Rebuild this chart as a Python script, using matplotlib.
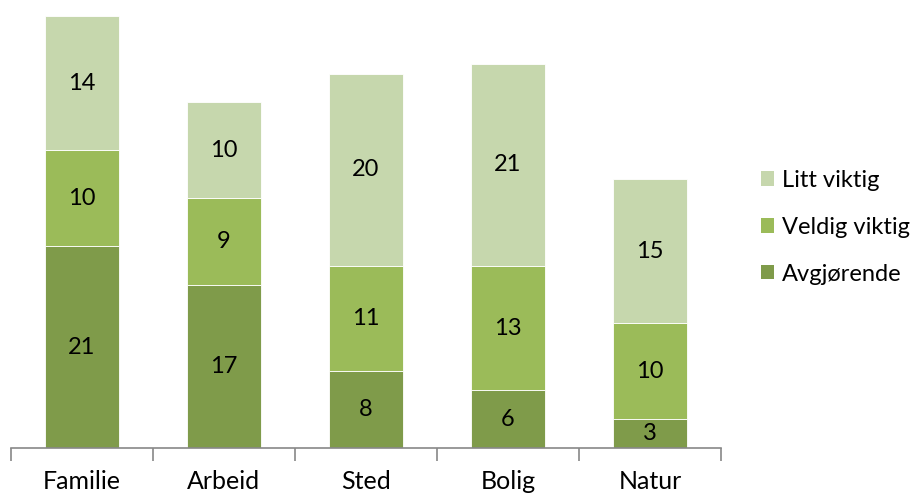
import matplotlib
matplotlib.use("Agg")
import matplotlib.pyplot as plt
from matplotlib.patches import Patch
import numpy as np

categories = ["Familie", "Arbeid", "Sted", "Bolig", "Natur"]
avgjorende = [21, 17, 8, 6, 3]
veldig_viktig = [10, 9, 11, 13, 10]
litt_viktig = [14, 10, 20, 21, 15]
series_names = ["Avgjørende", "Veldig viktig", "Litt viktig"]
colors = ["#7f9b4a", "#9bbb59", "#c6d7ad"]

plt.rcParams['font.family'] = ['Lato', 'DejaVu Sans']

fig = plt.figure(figsize=(9.16, 4.94), dpi=100)
ax = fig.add_axes([0.012, 0.0931, 0.775, 0.8745])

x = np.arange(len(categories))
bottom = np.zeros(len(categories))
for vals, name, c in zip([avgjorende, veldig_viktig, litt_viktig], series_names, colors):
    ax.bar(x, vals, width=0.52, bottom=bottom, color=c, label=name,
           edgecolor="white", linewidth=0.6)
    for xi, b, v in zip(x, bottom, vals):
        ax.text(xi, b + v / 2, str(v), ha="center", va="center", fontsize=17, color="black")
    bottom += np.array(vals)

ax.set_xlim(-0.5, 4.5)
ax.set_ylim(0, 45)
ax.set_yticks([])
for s in ["top", "right", "left"]:
    ax.spines[s].set_visible(False)
ax.spines["bottom"].set_color("#888888")
ax.spines["bottom"].set_linewidth(1.2)
ax.set_xticks(np.arange(-0.5, 5, 1.0))
ax.set_xticklabels([])
ax.set_xticks(x, minor=True)
ax.set_xticklabels(categories, minor=True, fontsize=18)
ax.tick_params(axis="x", which="major", length=9, width=1.2, color="#888888", direction="out")
ax.tick_params(axis="x", which="minor", length=0, pad=16)

handles = [Patch(facecolor=colors[i], label=series_names[i]) for i in [2, 1, 0]]
fig.legend(handles=handles, loc="center left", bbox_to_anchor=(0.821, 0.540), frameon=False,
           fontsize=17, handlelength=0.55, handleheight=0.55, handletextpad=0.3,
           labelspacing=1.1, borderaxespad=0)

fig.savefig("out.png", dpi=100)
